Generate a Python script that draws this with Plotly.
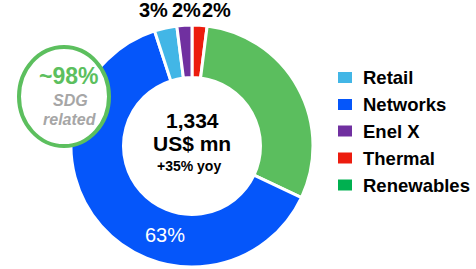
import plotly.graph_objects as go

W, H = 476, 269

# Data (clockwise from 12 o'clock)
slice_labels = ["Thermal", "Renewables", "Networks", "Retail", "Enel X"]
slice_values = [2, 30, 63, 3, 2]
slice_colors = ["#EC1C0E", "#5BBE5E", "#0556FA", "#42B6E6", "#7030A0"]

# Legend order as shown
legend_labels = ["Retail", "Networks", "Enel X", "Thermal", "Renewables"]
legend_colors = ["#42B6E6", "#0556FA", "#7030A0", "#EC1C0E", "#00B050"]

# Value labels
top_labels = ["3%", "2%", "2%"]
main_label = "63%"
total_value = "1,334"
total_unit = "US$ mn"
growth = "+35% yoy"
sdg_share = "~98%"
sdg_text = ["SDG", "related"]

FONT = "Liberation Sans, Arial, sans-serif"

def px(x):
    return x / W

def py(y):
    return 1 - y / H

fig = go.Figure()
fig.add_trace(go.Pie(
    labels=slice_labels,
    values=slice_values,
    marker=dict(colors=slice_colors, line=dict(color="white", width=3)),
    hole=0.566,
    sort=False,
    direction="clockwise",
    rotation=0,
    textinfo="none",
    hoverinfo="label+percent",
    showlegend=False,
    domain=dict(x=[px(71), px(313)], y=[py(267), py(25)]),
))

shapes = []
annotations = []

# SDG badge (slightly tall ellipse)
cx, cy, rx, ry = 64, 96.5, 45, 49.5
shapes.append(dict(type="circle", xref="paper", yref="paper",
                   x0=px(cx - rx), x1=px(cx + rx), y0=py(cy + ry), y1=py(cy - ry),
                   line=dict(color="#5CBF5E", width=4), fillcolor="white", layer="above"))
annotations.append(dict(text="<b>" + sdg_share + "</b>", x=px(68.5), y=py(76),
                        font=dict(family=FONT, size=23, color="#5CBF5E")))
annotations.append(dict(text="<b><i>" + sdg_text[0] + "</i></b>", x=px(70), y=py(100),
                        font=dict(family=FONT, size=16, color="#A6A6A6")))
annotations.append(dict(text="<b><i>" + sdg_text[1] + "</i></b>", x=px(70), y=py(119),
                        font=dict(family=FONT, size=16, color="#A6A6A6")))

# Top labels
for t, x in zip(top_labels, [153, 186, 216]):
    annotations.append(dict(text="<b>" + t + "</b>", x=px(x), y=py(10.5),
                            font=dict(family=FONT, size=20, color="black")))
annotations.append(dict(text=main_label, x=px(164.5), y=py(235),
                        font=dict(family=FONT, size=20, color="white")))

# Center text
annotations.append(dict(text="<b>" + total_value + "</b>", x=px(192.5), y=py(120),
                        font=dict(family=FONT, size=21, color="black")))
annotations.append(dict(text="<b>" + total_unit + "</b>", x=px(192), y=py(143),
                        font=dict(family=FONT, size=21, color="black")))
annotations.append(dict(text="<b>" + growth + "</b>", x=px(189), y=py(166),
                        font=dict(family=FONT, size=14, color="black")))

# Legend
ys = [77.5, 104.5, 131, 158, 185]
for lab, col, y in zip(legend_labels, legend_colors, ys):
    shapes.append(dict(type="rect", xref="paper", yref="paper",
                       x0=px(338), x1=px(352), y0=py(y + 5.5), y1=py(y - 5.5),
                       line=dict(width=0), fillcolor=col))
    annotations.append(dict(text="<b>" + lab + "</b>", x=px(361), y=py(y), xanchor="left",
                            font=dict(family=FONT, size=18.5, color="black")))

for a in annotations:
    a.setdefault("xref", "paper")
    a.setdefault("yref", "paper")
    a.setdefault("xanchor", "center")
    a.setdefault("yanchor", "middle")
    a.setdefault("showarrow", False)

fig.update_layout(
    width=W, height=H,
    margin=dict(l=0, r=0, t=0, b=0),
    paper_bgcolor="white", plot_bgcolor="white",
    shapes=shapes, annotations=annotations,
    showlegend=False,
)

fig.write_html("out.html", config={"displayModeBar": False},
               post_script="document.body.style.margin='0';document.body.style.overflow='hidden';")
